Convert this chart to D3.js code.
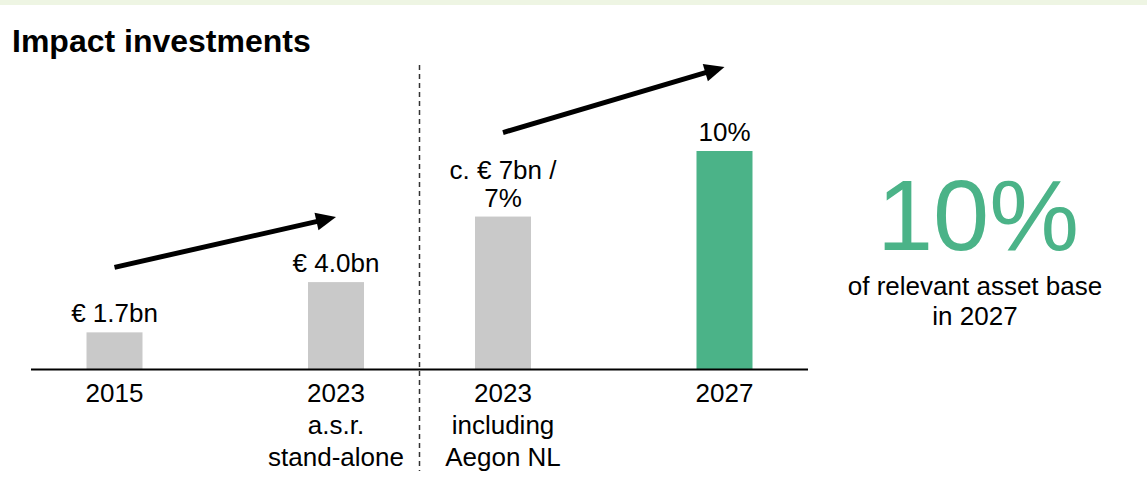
<!DOCTYPE html>
<html>
<head>
<meta charset="utf-8">
<script src="https://cdn.jsdelivr.net/npm/d3@7"></script>
<style>
  html, body { margin: 0; padding: 0; background: #fff; }
  svg { display: block; font-family: "Liberation Sans", Arial, Helvetica, sans-serif; }
</style>
</head>
<body>
<svg id="chart" width="1147" height="483"></svg>
<script>
// Impact investments: bars by period, split into stand-alone vs including Aegon NL
const groups = ["standalone", "combined"];
const categories = ["2015", "2023 a.s.r.", "2023 incl.", "2027"];
const categoryGroup = ["standalone", "standalone", "combined", "combined"];
const axisLabels = [["2015"], ["2023", "a.s.r.", "stand-alone"], ["2023", "including", "Aegon NL"], ["2027"]];
const values = [1.7, 4.0, 7.0, 10.0];
const valueLabels = [["€ 1.7bn"], ["€ 4.0bn"], ["c. € 7bn /", "7%"], ["10%"]];
const highlight = [false, false, false, true];
// growth arrows between pairs of bars (indices into categories)
const arrows = [[0, 1], [2, 3]];
const headline = "10%";
const headlineText = ["of relevant asset base", "in 2027"];

const svg = d3.select("#chart");
const W = 1147, H = 483;
const GRAY = "#c9c9c9", GREEN = "#4bb388";
const FONT = 26;

// light band along the top edge
svg.append("rect").attr("x", 0).attr("y", 0).attr("width", W).attr("height", 5).attr("fill", "#eef5e3");

svg.append("text").attr("x", 12).attr("y", 52)
  .attr("font-size", 32).attr("font-weight", "bold").attr("fill", "#000")
  .text("Impact investments");

// scales
const xGroup = d3.scaleBand().domain(groups).range([31, 808]).padding(0);
const xInner = d3.scalePoint().domain([0, 1]).range([0, xGroup.bandwidth()]).padding(0.377);
const withinIndex = categories.map((c, i) => categoryGroup.slice(0, i).filter(g => g === categoryGroup[i]).length);
const xc = i => xGroup(categoryGroup[i]) + xInner(withinIndex[i]);
const barW = 56;
const y = d3.scaleLinear().domain([0, 10]).range([369.5, 151]);

// bars
svg.append("g").selectAll("rect").data(values).join("rect")
  .attr("x", (d, i) => xc(i) - barW / 2)
  .attr("y", d => y(d))
  .attr("width", barW)
  .attr("height", d => y(0) - y(d))
  .attr("fill", (d, i) => highlight[i] ? GREEN : GRAY);

// baseline
svg.append("line")
  .attr("x1", xGroup.range()[0]).attr("x2", xGroup.range()[1])
  .attr("y1", y(0)).attr("y2", y(0))
  .attr("stroke", "#000").attr("stroke-width", 2);

// dashed divider between the groups
const divX = xGroup(groups[1]);
svg.append("line")
  .attr("x1", divX).attr("x2", divX).attr("y1", 65).attr("y2", 471)
  .attr("stroke", "#333").attr("stroke-width", 1.5).attr("stroke-dasharray", "5,4");

// value labels above bars
values.forEach((v, i) => {
  const lines = valueLabels[i];
  const t = svg.append("text").attr("text-anchor", "middle").attr("font-size", FONT).attr("fill", "#000");
  lines.forEach((ln, k) => {
    t.append("tspan").attr("x", xc(i))
      .attr("y", y(v) - 10 - (lines.length - 1 - k) * 28)
      .text(ln);
  });
});

// category labels below the baseline
axisLabels.forEach((lines, i) => {
  const t = svg.append("text").attr("text-anchor", "middle").attr("font-size", FONT).attr("fill", "#000");
  lines.forEach((ln, k) => {
    t.append("tspan").attr("x", xc(i)).attr("y", 402 + k * 32).text(ln);
  });
});

// growth arrows
arrows.forEach(([a, b]) => {
  const lift = Math.max(valueLabels[a].length, valueLabels[b].length) > 1 ? 84 : 65;
  const x1 = xc(a), y1 = y(values[a]) - lift;
  const x2 = xc(b), y2 = y(values[b]) - lift;
  const dx = x2 - x1, dy = y2 - y1, len = Math.hypot(dx, dy);
  const ux = dx / len, uy = dy / len, px = -uy, py = ux;
  const headL = 20, headW = 9;
  const bx = x2 - ux * headL, by = y2 - uy * headL;
  svg.append("line")
    .attr("x1", x1).attr("y1", y1).attr("x2", bx + ux * 2).attr("y2", by + uy * 2)
    .attr("stroke", "#000").attr("stroke-width", 5);
  svg.append("path")
    .attr("d", d3.line()([[x2, y2], [bx + px * headW, by + py * headW], [bx - px * headW, by - py * headW]]) + "Z")
    .attr("fill", "#000");
});

// headline figure on the right
svg.append("text").attr("x", 978).attr("y", 250).attr("text-anchor", "middle")
  .attr("font-size", 101).attr("fill", GREEN).text(headline);
const ht = svg.append("text").attr("text-anchor", "middle").attr("font-size", FONT).attr("fill", "#000");
headlineText.forEach((ln, k) => {
  ht.append("tspan").attr("x", 975).attr("y", 295 + k * 30).text(ln);
});
</script>
</body>
</html>
